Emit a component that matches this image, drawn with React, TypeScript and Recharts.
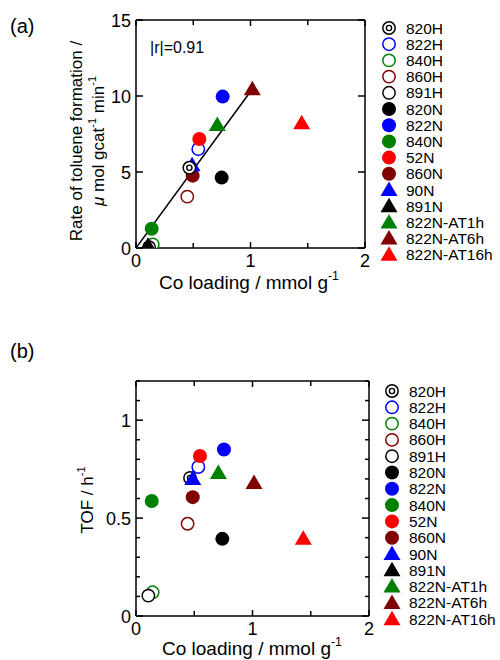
import { ReferenceLine, Scatter, ScatterChart, XAxis, YAxis } from 'recharts'

const FONT = '"Liberation Sans", Arial, sans-serif'

// samples, in legend order
const names = ['820H', '822H', '840H', '860H', '891H', '820N', '822N', '840N', '52N', '860N', '90N', '891N', '822N-AT1h', '822N-AT6h', '822N-AT16h']
const colors = ['#000000', '#0000FF', '#008000', '#800000', '#000000', '#000000', '#0000FF', '#008000', '#FF0000', '#800000', '#0000FF', '#000000', '#008000', '#800000', '#FF0000']
const kinds = ['double', 'open', 'open', 'open', 'open', 'filled', 'filled', 'filled', 'filled', 'filled', 'tri', 'tri', 'tri', 'tri', 'tri']

// (a) Co loading vs rate of toluene formation
const loadingA = [0.466, 0.544, 0.146, 0.448, 0.114, 0.748, 0.757, 0.137, 0.553, 0.495, 0.49, 0.105, 0.71, 1.016, 1.447]
const rateA = [5.28, 6.51, 0.24, 3.38, 0.05, 4.63, 9.96, 1.27, 7.17, 4.76, 5.45, 0.15, 8.09, 10.44, 8.2]
const fitLoading = [0, 1.0]
const fitRate = [0, 10.3]

// (b) Co loading vs TOF (891N not plotted)
const loadingB = [0.464, 0.535, 0.143, 0.443, 0.106, 0.741, 0.755, 0.135, 0.549, 0.487, 0.487, null, 0.707, 1.013, 1.436]
const tofB = [0.705, 0.761, 0.121, 0.471, 0.104, 0.394, 0.85, 0.587, 0.817, 0.607, 0.7, null, 0.73, 0.679, 0.394]

const xTicks = [0, 0.5, 1, 1.5, 2]
const xLabels = [0, 1, 2]
const yTicksA = [0, 5, 10, 15]
const yLabelsA = [0, 5, 10, 15]
const yTicksB = [0, 0.1, 0.2, 0.3, 0.4, 0.5, 0.6, 0.7, 0.8, 0.9, 1, 1.1, 1.2]
const yLabelsB = [0, 0.5, 1]

type Geo = { left: number; right: number; top: number; bottom: number }

function Marker({ cx, cy, kind, color }: { cx: number; cy: number; kind: string; color: string }) {
  if (cx == null || cy == null) return <g />
  if (kind === 'double')
    return (
      <g>
        <circle cx={cx} cy={cy} r={6.2} fill="#fff" stroke="#000" strokeWidth={1.5} />
        <circle cx={cx} cy={cy} r={2.6} fill="#fff" stroke="#000" strokeWidth={1.4} />
      </g>
    )
  if (kind === 'open') return <circle cx={cx} cy={cy} r={6.2} fill="#fff" stroke={color} strokeWidth={1.5} />
  if (kind === 'filled') return <circle cx={cx} cy={cy} r={7} fill={color} />
  return <polygon points={`${cx},${cy - 8.5} ${cx - 8.5},${cy + 6} ${cx + 8.5},${cy + 6}`} fill={color} />
}

const fmt = (v: number) => String(v)

function Panel({ geo, height, yDomain, yTicks, yLabels, xs, ys, order, fit }: {
  geo: Geo; height: number; yDomain: [number, number]; yTicks: number[]; yLabels: number[]
  xs: (number | null)[]; ys: (number | null)[]; order: number[]; fit?: { x: number; y: number }[]
}) {
  const xTick = (p: any) => {
    const x = p.x
    const v = p.payload.value
    const len = xLabels.includes(v) ? 6 : 5
    return (
      <g>
        <line x1={x} x2={x} y1={geo.bottom} y2={geo.bottom - len} stroke="#000" strokeWidth={1.5} />
        <line x1={x} x2={x} y1={geo.top} y2={geo.top + len} stroke="#000" strokeWidth={1.5} />
        {xLabels.includes(v) && (
          <text x={x} y={geo.bottom + 19} textAnchor="middle" fontSize={18} fontFamily={FONT} fill="#000">{fmt(v)}</text>
        )}
      </g>
    )
  }
  const yTick = (p: any) => {
    const y = p.y
    const v = p.payload.value
    const major = yLabels.includes(v)
    const len = major ? 7 : 4
    return (
      <g>
        <line x1={geo.left} x2={geo.left + len} y1={y} y2={y} stroke="#000" strokeWidth={1.5} />
        <line x1={geo.right - len} x2={geo.right} y1={y} y2={y} stroke="#000" strokeWidth={1.5} />
        {major && (
          <text x={geo.left - 5} y={y + 6.5} textAnchor="end" fontSize={18} fontFamily={FONT} fill="#000">{fmt(v)}</text>
        )}
      </g>
    )
  }
  return (
    <ScatterChart
      width={500}
      height={height}
      margin={{ top: geo.top, right: 500 - geo.right, bottom: height - geo.bottom - 30, left: 0 }}
    >
      <XAxis dataKey="x" type="number" domain={[0, 2]} ticks={xTicks} interval={0} tick={xTick} tickLine={false}
        axisLine={{ stroke: '#000', strokeWidth: 1.5 }} height={30} allowDataOverflow />
      <YAxis dataKey="y" type="number" domain={yDomain} ticks={yTicks} interval={0} tick={yTick} tickLine={false}
        axisLine={{ stroke: '#000', strokeWidth: 1.5 }} width={136} allowDataOverflow />
      <ReferenceLine y={yDomain[1]} stroke="#000" strokeWidth={1.5} />
      <ReferenceLine x={2} stroke="#000" strokeWidth={1.5} />
      {fit && (
        <Scatter data={fit} line={{ stroke: '#000', strokeWidth: 1.5 }} shape={() => <g />} isAnimationActive={false} />
      )}
      {order.map((i) => (
        <Scatter
          key={names[i]}
          name={names[i]}
          data={xs[i] == null ? [] : [{ x: xs[i], y: ys[i] }]}
          shape={(p: any) => <Marker cx={p.cx} cy={p.cy} kind={kinds[i]} color={colors[i]} />}
          isAnimationActive={false}
        />
      ))}
    </ScatterChart>
  )
}

function Sup({ children, size }: { children: string; size: number }) {
  return <tspan dy={-size * 0.45} fontSize={size * 0.65}>{children}</tspan>
}

function LegendBlock({ x, y0, step }: { x: number; y0: number; step: number }) {
  return (
    <g>
      {names.map((n, i) => {
        const cy = y0 + i * step
        return (
          <g key={n}>
            <Marker cx={x} cy={cy} kind={kinds[i]} color={colors[i]} />
            <text x={x + 17} y={cy + 5.5} fontSize={15.5} fontFamily={FONT} fill="#000">{n}</text>
          </g>
        )
      })}
    </g>
  )
}

const geoA: Geo = { left: 136, right: 365, top: 20, bottom: 248 }
const geoB: Geo = { left: 136, right: 369, top: 51, bottom: 286 }
const B_TOP = 330

export default function App() {
  const orderA = [1, 2, 3, 4, 5, 6, 7, 8, 9, 10, 11, 12, 13, 14, 0]
  const orderB = names.map((_, i) => i)
  const fit = fitLoading.map((x, i) => ({ x, y: fitRate[i] }))
  return (
    <div style={{ position: 'absolute', left: 0, top: 0, width: 500, height: 660, background: '#fff', fontFamily: FONT }}>
      <div style={{ position: 'absolute', left: 0, top: 0 }}>
        <Panel geo={geoA} height={300} yDomain={[0, 15]} yTicks={yTicksA} yLabels={yLabelsA}
          xs={loadingA} ys={rateA} order={orderA} fit={fit} />
      </div>
      <div style={{ position: 'absolute', left: 0, top: B_TOP }}>
        <Panel geo={geoB} height={330} yDomain={[0, 1.2]} yTicks={yTicksB} yLabels={yLabelsB}
          xs={loadingB} ys={tofB} order={orderB} />
      </div>
      <svg width={500} height={660} style={{ position: 'absolute', left: 0, top: 0, pointerEvents: 'none' }} fontFamily={FONT}>
        <text x={10} y={33} fontSize={20}>(a)</text>
        <text x={10} y={358} fontSize={20}>(b)</text>
        <text x={150} y={53} fontSize={16}>|r|=0.91</text>

        <text transform="translate(82,141) rotate(-90)" textAnchor="middle" fontSize={17}>Rate of toluene formation /</text>
        <text transform="translate(104,141) rotate(-90)" textAnchor="middle" fontSize={17}>
          <tspan fontStyle="italic">μ</tspan> mol gcat<Sup size={17}>-1</Sup><tspan dy={17 * 0.45}> min</tspan><Sup size={17}>-1</Sup>
        </text>
        <text transform="translate(93,500) rotate(-90)" textAnchor="middle" fontSize={17}>
          TOF / h<Sup size={17}>-1</Sup>
        </text>

        <text x={249} y={289} textAnchor="middle" fontSize={19}>
          Co loading / mmol g<Sup size={19}>-1</Sup>
        </text>
        <text x={252} y={655} textAnchor="middle" fontSize={19}>
          Co loading / mmol g<Sup size={19}>-1</Sup>
        </text>

        <LegendBlock x={389} y0={28} step={16.2} />
        <LegendBlock x={392} y0={391} step={16.3} />
      </svg>
    </div>
  )
}
